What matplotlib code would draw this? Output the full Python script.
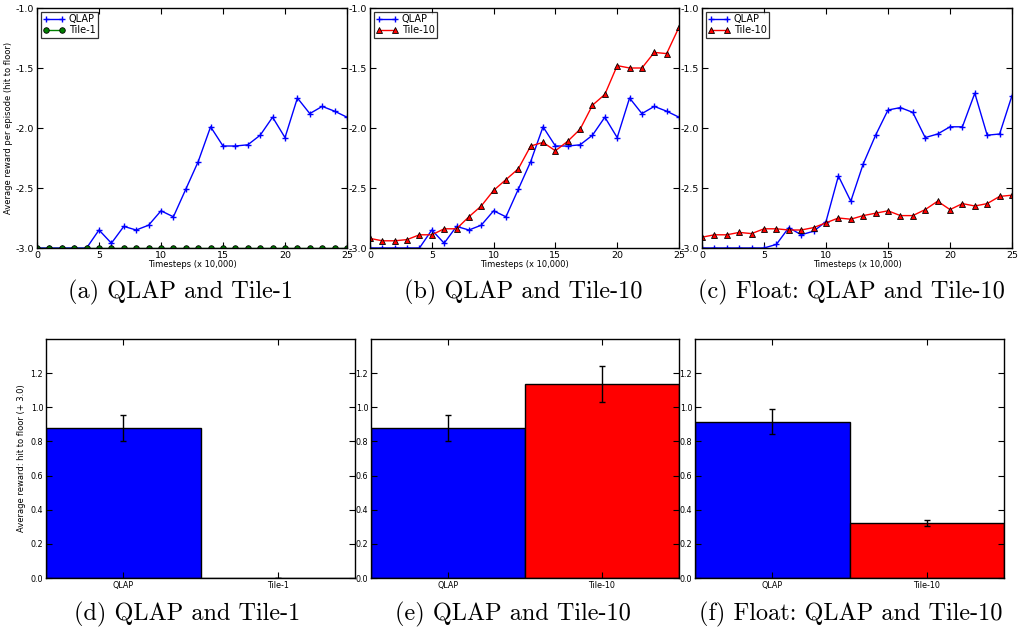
import numpy as np
import matplotlib
matplotlib.use("Agg")
import matplotlib.pyplot as plt

plt.rcParams['axes.unicode_minus'] = False
plt.rcParams['font.family'] = 'DejaVu Sans'

# timesteps (x 10,000)
steps = list(range(26))

# learning curves, average reward per episode
qlap = [-3.0, -3.0, -3.0, -3.0, -3.0, -2.85, -2.96, -2.82, -2.85, -2.81, -2.69, -2.74, -2.51,
        -2.28, -1.99, -2.15, -2.15, -2.14, -2.06, -1.91, -2.08, -1.75, -1.88, -1.82, -1.86, -1.91]
tile1 = [-3.0] * 26
tile10 = [-2.92, -2.94, -2.94, -2.93, -2.89, -2.89, -2.84, -2.84, -2.74, -2.65, -2.52, -2.43, -2.34,
          -2.15, -2.12, -2.19, -2.11, -2.01, -1.81, -1.72, -1.48, -1.50, -1.50, -1.37, -1.38, -1.16]
qlap_float = [-3.0, -3.0, -3.0, -3.0, -3.0, -3.0, -2.97, -2.83, -2.89, -2.86, -2.78, -2.40, -2.61,
              -2.30, -2.06, -1.85, -1.83, -1.87, -2.08, -2.05, -1.99, -1.99, -1.71, -2.06, -2.05, -1.73]
tile10_float = [-2.91, -2.89, -2.89, -2.87, -2.88, -2.84, -2.84, -2.85, -2.85, -2.83, -2.79, -2.75, -2.76,
                -2.73, -2.71, -2.69, -2.73, -2.73, -2.68, -2.61, -2.68, -2.63, -2.65, -2.63, -2.57, -2.56]

# bar charts: average reward (+ 3.0) with error
bar_names_1 = ['QLAP', 'Tile-1']
bar_vals_1 = [0.88, 0.0]
bar_errs_1 = [0.075, 0.0]
bar_names_10 = ['QLAP', 'Tile-10']
bar_vals_10 = [0.88, 1.137]
bar_errs_10 = [0.075, 0.107]
bar_vals_float = [0.915, 0.32]
bar_errs_float = [0.074, 0.017]

captions_top = ['(a) QLAP and Tile-1', '(b) QLAP and Tile-10', '(c) Float: QLAP and Tile-10']
captions_bot = ['(d) QLAP and Tile-1', '(e) QLAP and Tile-10', '(f) Float: QLAP and Tile-10']

fig = plt.figure(figsize=(10.18, 6.34), dpi=100)
W, H = 1018.0, 634.0

def px_axes(left, top, right, bottom):
    return fig.add_axes([left / W, 1 - bottom / H, (right - left) / W, (bottom - top) / H])

def style(ax, fs):
    ax.tick_params(direction='in', top=True, right=True, length=4, width=0.8,
                   labelsize=fs, pad=2)
    for s in ax.spines.values():
        s.set_linewidth(1.0)

top_axes = [px_axes(37, 8, 347, 248), px_axes(370, 8, 679, 248), px_axes(702, 8, 1012, 248)]
second = [(tile1, 'Tile-1'), (tile10, 'Tile-10'), (tile10_float, 'Tile-10')]
firsts = [qlap, qlap, qlap_float]

for i, ax in enumerate(top_axes):
    ax.plot(steps, firsts[i], color='blue', marker='+', markersize=4, linewidth=1.0, label='QLAP')
    ys, name = second[i]
    if name == 'Tile-1':
        ax.plot(steps, ys, color='green', marker='o', markersize=4, markerfacecolor='green',
                markeredgecolor='black', markeredgewidth=0.6, linewidth=1.0, label=name)
    else:
        ax.plot(steps, ys, color='red', marker='^', markersize=5, markerfacecolor='red',
                markeredgecolor='black', markeredgewidth=0.6, linewidth=1.0, label=name)
    ax.set_xlim(0, 25)
    ax.set_ylim(-3.0, -1.0)
    ax.set_xticks([0, 5, 10, 15, 20, 25])
    ax.set_yticks([-3.0, -2.5, -2.0, -1.5, -1.0])
    ax.set_yticklabels(['-3.0', '-2.5', '-2.0', '-1.5', '-1.0'])
    style(ax, 6.8)
    ax.set_xlabel('Timesteps (x 10,000)', fontsize=6, labelpad=0)
    leg = ax.legend(loc='upper left', fontsize=7, fancybox=False, numpoints=2,
                    handlelength=2.2, borderpad=0.25, labelspacing=0.1, handletextpad=0.4,
                    borderaxespad=0.4)
    leg.get_frame().set_edgecolor('black')
    leg.get_frame().set_linewidth(0.9)
top_axes[0].set_ylabel('Average reward per episode (hit to floor)', fontsize=6, labelpad=2)

bot_axes = [px_axes(46, 339, 355, 578), px_axes(371, 339, 679, 578), px_axes(695, 339, 1004, 578)]
bar_sets = [(bar_names_1, bar_vals_1, bar_errs_1),
            (bar_names_10, bar_vals_10, bar_errs_10),
            (bar_names_10, bar_vals_float, bar_errs_float)]
for ax, (names, vals, errs) in zip(bot_axes, bar_sets):
    x = np.arange(len(names))
    ax.bar(x, vals, width=1.0, yerr=errs, color=['blue', 'red'], edgecolor='black',
           linewidth=1.0, ecolor='black', capsize=2, error_kw={'elinewidth': 1.0, 'capthick': 1.0})
    ax.set_xlim(-0.5, 1.5)
    ax.set_ylim(0, 1.4)
    ax.set_xticks(x)
    ax.set_xticklabels(names)
    ax.set_yticks([0.0, 0.2, 0.4, 0.6, 0.8, 1.0, 1.2])
    ax.set_yticklabels(['0.0', '0.2', '0.4', '0.6', '0.8', '1.0', '1.2'])
    style(ax, 5.8)
bot_axes[0].set_ylabel('Average reward: hit to floor (+ 3.0)', fontsize=6, labelpad=3)

cap_x_top = [180, 523, 851]
cap_x_bot = [187, 513, 851]
for cx, t in zip(cap_x_top, captions_top):
    fig.text(cx / W, 1 - 292 / H, t, family='cmr10', fontsize=17.5, ha='center', va='center')
for cx, t in zip(cap_x_bot, captions_bot):
    fig.text(cx / W, 1 - 614 / H, t, family='cmr10', fontsize=17.5, ha='center', va='center')

fig.savefig('out.png', dpi=100)
